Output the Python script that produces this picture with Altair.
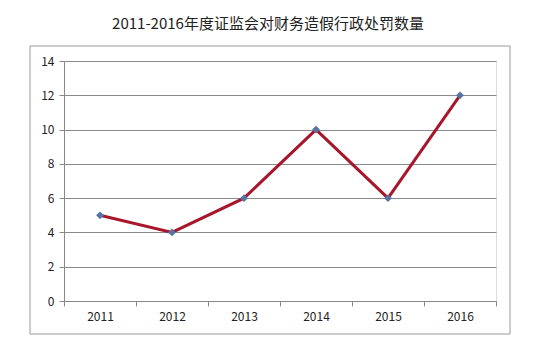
import altair as alt
import pandas as pd

years = ["2011", "2012", "2013", "2014", "2015", "2016"]
counts = [5, 4, 6, 10, 6, 12]
y_ticks = [0, 2, 4, 6, 8, 10, 12, 14]
title_text = "2011-2016年度证监会对财务造假行政处罚数量"

df = pd.DataFrame({"year": years, "count": counts})
FONT = "Noto Sans CJK SC"

x = alt.X(
    "year:N", sort=years,
    scale=alt.Scale(paddingInner=0, paddingOuter=0),
    axis=alt.Axis(title=None, labelAngle=0, tickBand="extent", grid=False,
                  domainColor="#888888", tickColor="#888888", tickSize=5,
                  labelPadding=5, labelFontSize=12, labelColor="#222222",
                  labelFont=FONT),
)
y = alt.Y(
    "count:Q",
    scale=alt.Scale(domain=[0, 14], nice=False),
    axis=alt.Axis(title=None, values=y_ticks, grid=True, gridColor="#8a8a8a",
                  gridWidth=1, domainColor="#888888", tickColor="#888888",
                  tickSize=5, labelPadding=5, labelFontSize=12,
                  labelColor="#222222", labelFont=FONT),
)

frame = alt.Chart(alt.Data(values=[{}])).mark_rect(
    fillOpacity=0, stroke="#9a9a9a", strokeWidth=1
).encode(
    x=alt.value(-34), x2=alt.value(446), y=alt.value(-15), y2=alt.value(273)
)

line = alt.Chart(df).mark_line(color="#A8162B", strokeWidth=3).encode(x=x, y=y)
pts = alt.Chart(df).mark_point(
    shape="diamond", filled=True, color="#5574A6", size=60, opacity=1
).encode(x=x, y=y)

chart = alt.layer(frame, line, pts).properties(
    width=432, height=240,
    autosize=alt.AutoSizeParams(type="none"),
    padding={"left": 64, "top": 61, "right": 44, "bottom": 57},
    title=alt.TitleParams(title_text, font=FONT, fontSize=15, fontWeight="normal",
                          color="#222222", anchor="middle", dx=-12, offset=14,
                          frame="group"),
).configure_view(stroke=None).configure(background="white")

chart.save("out.html", embed_options={"renderer": "svg", "actions": False})
